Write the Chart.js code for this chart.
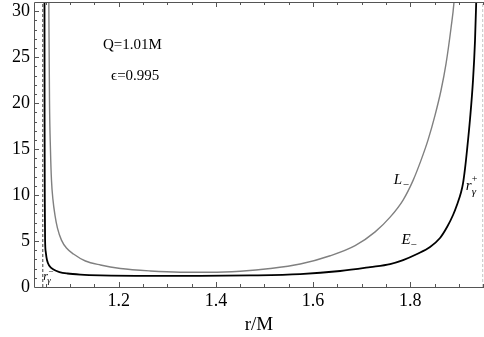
<!DOCTYPE html>
<html>
<head>
<meta charset="utf-8">
<script src="https://cdn.jsdelivr.net/npm/chart.js@4.4.1/dist/chart.umd.min.js"></script>
<style>
  html, body { margin: 0; padding: 0; background: #fff; }
  #wrap { width: 484px; height: 337px; }
</style>
</head>
<body>
<div id="wrap"><canvas id="myChart" width="484" height="337"></canvas></div>
<script>
// E_- branch (black)
const rE = [1.0473, 1.0475, 1.0479, 1.0485, 1.0499, 1.0524, 1.0576, 1.0658, 1.0781, 1.0946,
  1.1213, 1.1624, 1.2652, 1.3679, 1.4707, 1.5735, 1.6557, 1.7174, 1.7585, 1.7852,
  1.8140, 1.8407, 1.8612, 1.8757, 1.8880, 1.8962, 1.9045, 1.9086, 1.9127, 1.9168,
  1.9230, 1.9291, 1.9332, 1.9357, 1.9373];
const eMinus = [31, 18.2, 9.5, 5.1, 3.8, 2.93, 2.28, 1.90, 1.63, 1.47,
  1.35, 1.27, 1.22, 1.22, 1.26, 1.40, 1.74, 2.17, 2.5, 2.93,
  3.59, 4.35, 5.33, 6.52, 7.83, 8.95, 10.3, 11.3, 12.9, 14.9,
  18.3, 22.5, 26.8, 31, 34.5];

// L_- branch (grey)
const rL = [1.0562, 1.0576, 1.0596, 1.0617, 1.0647, 1.0689, 1.0740, 1.0822, 1.0925, 1.1069,
  1.1315, 1.1624, 1.2035, 1.2652, 1.3268, 1.3885, 1.4502, 1.5119, 1.5735, 1.6352,
  1.6865, 1.7277, 1.7585, 1.7852, 1.8058, 1.8222, 1.8366, 1.8510, 1.8633, 1.8736,
  1.8839, 1.8900, 1.8941];
const lMinus = [31, 20.3, 14.9, 11.6, 9.5, 7.8, 6.4, 5.1, 4.24, 3.59,
  2.83, 2.39, 2.01, 1.74, 1.61, 1.60, 1.72, 2.01, 2.5, 3.4,
  4.5, 6.0, 7.6, 9.46, 11.6, 13.8, 16.0, 18.7, 21.4, 24.3,
  28.2, 31, 34.5];

// photon orbit radii
const rGammaMinus = 1.0438;
const rGammaPlus = 1.949;

const xTicks = [1.2, 1.4, 1.6, 1.8];
const yTicks = [0, 5, 10, 15, 20, 25, 30];

const xMin = 1.0257, xMax = 1.9517;
const yMin = 0, yMax = 31;

const serif = '"Liberation Serif", serif';

const pts = (xs, ys) => xs.map((x, i) => ({ x: x, y: ys[i] }));

// frame with inward ticks, Mathematica style
const framePlugin = {
  id: 'frame',
  afterDatasetsDraw(chart) {
    const { ctx, chartArea: a, scales: { x, y } } = chart;
    ctx.save();
    ctx.strokeStyle = '#555';
    ctx.lineWidth = 1;
    ctx.beginPath();
    ctx.moveTo(a.right + 1, a.top + 0.5);
    ctx.lineTo(a.left + 0.5, a.top + 0.5);
    ctx.lineTo(a.left + 0.5, a.bottom + 0.5);
    ctx.lineTo(a.right + 1, a.bottom + 0.5);
    ctx.stroke();

    ctx.beginPath();
    for (let v = 1.05; v < xMax; v += 0.05) {
      const major = xTicks.some(t => Math.abs(t - v) < 1e-6);
      const px = Math.round(x.getPixelForValue(v)) + 0.5;
      const len = major ? 5 : 3;
      ctx.moveTo(px, a.bottom);
      ctx.lineTo(px, a.bottom - len);
      ctx.moveTo(px, a.top);
      ctx.lineTo(px, a.top + len);
    }
    for (let v = 1; v <= 30; v++) {
      const major = v % 5 === 0;
      const py = Math.round(y.getPixelForValue(v)) + 0.5;
      const len = major ? 5 : 3;
      ctx.moveTo(a.left, py);
      ctx.lineTo(a.left + len, py);
    }
    ctx.stroke();
    ctx.restore();
  },
  afterDraw(chart) {
    const { ctx, scales: { x, y } } = chart;
    const at = (r, v) => [x.getPixelForValue(r), y.getPixelForValue(v)];
    ctx.save();
    ctx.fillStyle = '#000';
    ctx.textBaseline = 'middle';
    ctx.textAlign = 'center';
    ctx.font = '15px ' + serif;
    let [px, py] = at(1.2281, 26.3);
    ctx.fillText('Q=1.01M', px, py);
    [px, py] = at(1.234, 22.9);
    ctx.fillText('\u03F5=0.995', px, py);

    ctx.textAlign = 'left';
    // L_-
    [px, py] = at(1.766, 11.6);
    ctx.font = 'italic 15px ' + serif;
    ctx.fillText('L', px, py);
    ctx.font = '11px ' + serif;
    ctx.fillText('\u2212', px + 9, py + 5);
    // E_-
    [px, py] = at(1.782, 5.1);
    ctx.font = 'italic 15px ' + serif;
    ctx.fillText('E', px, py);
    ctx.font = '11px ' + serif;
    ctx.fillText('\u2212', px + 9, py + 5);
    // r_gamma^+
    [px, py] = at(1.914, 11.0);
    ctx.font = 'italic 15px ' + serif;
    ctx.fillText('r', px, py);
    ctx.font = 'italic 11px ' + serif;
    ctx.fillText('\u03B3', px + 6, py + 6);
    ctx.font = '10px ' + serif;
    ctx.fillText('+', px + 6, py - 6);
    // r_gamma^-
    [px, py] = at(1.0449, 1.09);
    ctx.font = 'italic 12px ' + serif;
    ctx.fillText('r', px, py);
    ctx.font = 'italic 9px ' + serif;
    ctx.fillText('\u03B3', px + 4, py + 4);
    ctx.font = '9px ' + serif;
    ctx.fillText('\u2212', px + 5, py - 5);
    ctx.restore();
  }
};

new Chart(document.getElementById('myChart').getContext('2d'), {
  type: 'line',
  data: {
    datasets: [
      {
        data: pts([rGammaMinus, rGammaMinus], [yMin, yMax]),
        borderColor: '#444', borderWidth: 1, borderDash: [3, 2],
        pointRadius: 0, tension: 0
      },
      {
        data: pts([rGammaPlus, rGammaPlus], [yMin, yMax]),
        borderColor: '#c4c4c4', borderWidth: 1, borderDash: [3, 2],
        pointRadius: 0, tension: 0
      },
      {
        data: pts(rL, lMinus),
        borderColor: '#808080', borderWidth: 1.4,
        pointRadius: 0, cubicInterpolationMode: 'monotone'
      },
      {
        data: pts(rE, eMinus),
        borderColor: '#000', borderWidth: 1.8,
        pointRadius: 0, cubicInterpolationMode: 'monotone'
      }
    ]
  },
  options: {
    responsive: false,
    animation: false,
    layout: { autoPadding: false, padding: { top: 2, right: 0, left: 0, bottom: 0 } },
    plugins: { legend: { display: false }, tooltip: { enabled: false } },
    scales: {
      x: {
        type: 'linear', min: xMin, max: xMax,
        grid: { display: false, drawTicks: false, tickLength: 0 },
        border: { display: false },
        afterBuildTicks: s => { s.ticks = xTicks.map(v => ({ value: v })); },
        afterFit: s => { s.height = 50; s.paddingLeft = 0; s.paddingRight = 0; },
        ticks: {
          color: '#000', padding: 3, maxRotation: 0,
          font: { family: serif, size: 18 },
          callback: v => v.toFixed(1)
        },
        title: {
          display: true, text: 'r/M', color: '#000',
          font: { family: serif, size: 19 },
          padding: { top: 0, bottom: 1 }
        }
      },
      y: {
        type: 'linear', min: yMin, max: yMax,
        grid: { display: false, drawTicks: false, tickLength: 0 },
        border: { display: false },
        afterBuildTicks: s => { s.ticks = yTicks.map(v => ({ value: v })); },
        afterFit: s => { s.width = 34; s.paddingTop = 0; s.paddingBottom = 0; },
        ticks: {
          color: '#000', padding: 4,
          font: { family: serif, size: 18, lineHeight: 0.2 }
        }
      }
    }
  },
  plugins: [framePlugin]
});
</script>
</body>
</html>
